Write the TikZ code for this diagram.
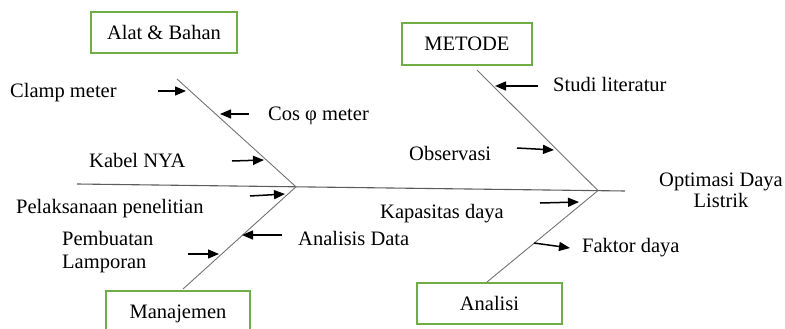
\documentclass[tikz,border=0pt]{standalone}
\usepackage{fontspec}
\setmainfont{Liberation Serif}
\usetikzlibrary{arrows.meta}
\definecolor{boxgreen}{RGB}{112,173,71}
\definecolor{bonegray}{RGB}{115,115,115}
\tikzset{
  catbox/.style={draw=boxgreen, line width=1.6pt, fill=white, inner sep=0pt,
    text height=14pt, text depth=0pt, font=\fontsize{20.5}{24}\selectfont},
  lbl/.style={inner sep=0pt, anchor=base west, font=\fontsize{20.5}{24}\selectfont},
  bone/.style={draw=bonegray, line width=0.9pt},
  spine/.style={draw=bonegray!80!black, line width=1.1pt},
  cause/.style={draw=black, line width=1.5pt, -{Triangle[length=11pt,width=9pt]}}
}
\begin{document}
\begin{tikzpicture}[x=1pt,y=-1pt]
\useasboundingbox (0,0) rectangle (785,329);
\clip (0,0) rectangle (785,329);
% category boxes
\node[catbox, minimum width=146pt, minimum height=41pt] (alat) at (164,32.5) {Alat \& Bahan};
\node[catbox, minimum width=130pt, minimum height=42pt] (metode) at (467,44) {METODE};
\node[catbox, minimum width=144pt, minimum height=41pt] (manaj) at (178,311.5) {Manajemen};
\node[catbox, minimum width=145pt, minimum height=41pt] (analisi) at (489.5,303.5) {Analisi};
% skeleton points
\coordinate (s1) at (77,184);
\coordinate (s2) at (625,191);
\coordinate (jL) at (296,186.8);
\coordinate (jR) at (598,190.6);
\coordinate (tl) at (177,79);
\coordinate (tr) at (477,70);
\coordinate (bl) at (183,289);
\coordinate (br) at (487,282);
\draw[spine] (s1) -- (s2);
\draw[bone] (tl) -- (jL);
\draw[bone] (tr) -- (jR);
\draw[bone] (bl) -- (jL);
\draw[bone] (br) -- (jR);
% labels
\node[lbl] (clamp) at (10,98) {Clamp meter};
\node[lbl] (cos) at (268,121) {Cos φ meter};
\node[lbl] (kabel) at (89,167) {Kabel NYA};
\node[lbl] (studi) at (553,92) {Studi literatur};
\node[lbl] (obs) at (409,160) {Observasi};
\node[lbl] (pelak) at (16,213) {Pelaksanaan penelitian};
\node[inner sep=0pt, anchor=west, align=left, font=\fontsize{20.5}{23}\selectfont] (pemb) at (62,251.7) {Pembuatan\\Lamporan};
\node[lbl] (anal) at (298,245) {Analisis Data};
\node[lbl] (kap) at (380,218) {Kapasitas daya};
\node[lbl] (fak) at (582,252) {Faktor daya};
\node[inner sep=0pt, anchor=center, align=center, font=\fontsize{20.5}{21}\selectfont] (opt) at (721,190.5) {Optimasi Daya\\Listrik};
% arrows
\coordinate (a1s) at (158,91);  \coordinate (a1e) at (186,91);
\coordinate (a2s) at (249,114); \coordinate (a2e) at (220,114);
\coordinate (a3s) at (232,161); \coordinate (a3e) at (264,160);
\coordinate (a4s) at (538,86);  \coordinate (a4e) at (495,86);
\coordinate (a5s) at (517,148); \coordinate (a5e) at (554,150);
\coordinate (a6s) at (250,196); \coordinate (a6e) at (285,194);
\coordinate (a7s) at (188,254); \coordinate (a7e) at (219,254);
\coordinate (a8s) at (282,235); \coordinate (a8e) at (242,235);
\coordinate (a9s) at (540,203); \coordinate (a9e) at (579,202);
\coordinate (a10s) at (534,243); \coordinate (a10e) at (570,248);
\draw[cause] (a1s) -- (a1e);
\draw[cause] (a2s) -- (a2e);
\draw[cause] (a3s) -- (a3e);
\draw[cause] (a4s) -- (a4e);
\draw[cause] (a5s) -- (a5e);
\draw[cause] (a6s) -- (a6e);
\draw[cause] (a7s) -- (a7e);
\draw[cause] (a8s) -- (a8e);
\draw[cause] (a9s) -- (a9e);
\draw[cause] (a10s) -- (a10e);
\end{tikzpicture}
\end{document}
